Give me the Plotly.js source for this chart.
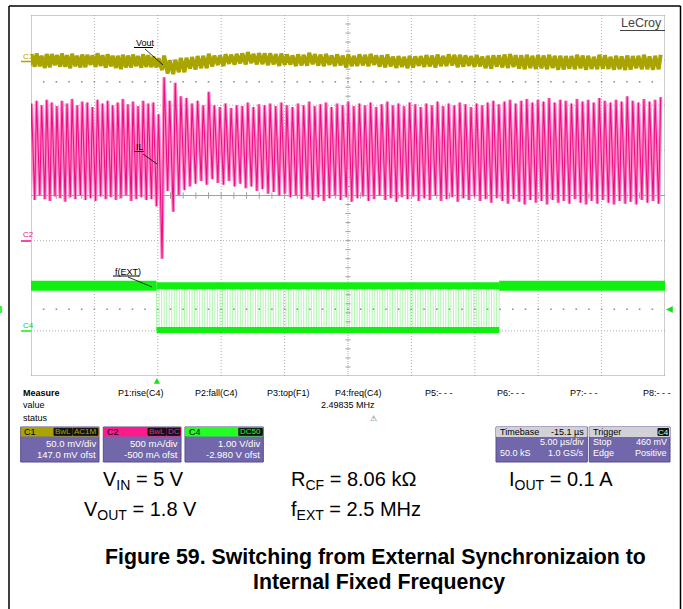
<!DOCTYPE html>
<html><head><meta charset="utf-8">
<script src="https://cdn.plot.ly/plotly-3.0.1.min.js"></script>
<style>html,body{margin:0;padding:0;background:#fff}#chart{width:683px;height:609px}</style>
</head><body><div id="chart"></div>
<script>
// ================= DATA =================
// Timebase
const timebaseUsPerDiv = 5.0;
const triggerDelayUs = -15.1;
// Channel settings: [units per div, offset]
const c1Scale = 50.0, c1Offset = 147.0;     // mV/div, mV  (Vout, AC)
const c2Scale = 0.5,  c2Offset = -0.5;      // A/div, A    (IL)
const c4Scale = 1.0,  c4Offset = -2.98;     // V/div, V    (f(EXT))
// Switching: external clock 2.5 MHz, internal oscillator after the switch-over
const fExtMHz = 2.49835;
const intPeriodUs = 0.44;
const dutyCycle = 1.8 / 5;
// Inductor current, per switching cycle (A)
const ilPeakExtA   = [1.52,1.55,1.50,1.56,1.53,1.49,1.55,1.52,1.57,1.50,1.54,1.53,1.48,1.56,1.52,1.55,1.50,1.53,1.57,1.51,1.54,1.49,1.55,1.52,1.53];
const ilValleyExtA = [0.47,0.45,0.50,0.46,0.44,0.49,0.47,0.43,0.48,0.46,0.50,0.45,0.47,0.44,0.49,0.46,0.48,0.45,0.47,0.50,0.44,0.46,0.48,0.45,0.46];
const ilPeakIntA = [1.40,1.81,1.55,1.75,1.60,1.58,1.52,1.55,1.50,1.65,1.50,1.48,1.52,1.47,1.50,1.49,1.53,1.48,1.51,1.50,
  1.52,1.49,1.53,1.50,1.48,1.52,1.50,1.54,1.49,1.51,1.53,1.48,1.52,1.50,1.54,1.49,1.52,1.50,1.53,1.48,
  1.51,1.54,1.50,1.52,1.49,1.53,1.51,1.48,1.52,1.50,1.54,1.49,1.52,1.50,1.53,1.51,1.48,1.52,1.50,1.53,
  1.55,1.51,1.54,1.56,1.52,1.55,1.57,1.53,1.56,1.54,1.58,1.53,1.56,1.55,1.52,1.57,1.54,1.56,1.53,1.58,
  1.55,1.53,1.56,1.54,1.60,1.55,1.53,1.57,1.54,1.56,1.59];
const ilValleyIntA = [0.38,-0.20,0.55,0.32,0.50,0.56,0.60,0.63,0.66,0.62,0.68,0.64,0.62,0.66,0.60,0.63,0.58,0.60,0.55,0.57,
  0.52,0.54,0.50,0.52,0.48,0.50,0.46,0.49,0.45,0.48,0.44,0.47,0.50,0.45,0.48,0.43,0.47,0.49,0.44,0.46,
  0.50,0.45,0.47,0.43,0.48,0.46,0.49,0.44,0.47,0.45,0.50,0.44,0.46,0.48,0.43,0.47,0.45,0.49,0.44,0.46,
  0.42,0.47,0.44,0.41,0.46,0.43,0.40,0.45,0.42,0.44,0.40,0.45,0.42,0.44,0.41,0.46,0.42,0.40,0.44,0.41,
  0.45,0.42,0.40,0.44,0.41,0.43,0.40,0.45,0.42,0.44,0.41];
// Vout (AC) mean level, one sample per microsecond from the left edge (mV), and ripple half amplitude
const voutMidMv = [3,2,3,2,2,3,2,1,2,2, 0,-4.5,-2.5,0,2,3,4,5,4.5,4,3.5, 3,4,3,3,2, 3,3,2,1,1,
  2,2,3,2,2,1,2,2,1,1, 1,0,1,0,1,0,0,1,0,1];
const voutRippleMv = 6.5;
// f(EXT) clock
const fextHighV = 0.98, fextLowV = 0.0;
const fextCycles = 68;
const trigLevelV = 0.46;
const cursorLevelDiv = 6.52;
// Texts
const measureLabels = ['P1:rise(C4)','P2:fall(C4)','P3:top(F1)','P4:freq(C4)','P5:- - -','P6:- - -','P7:- - -','P8:- - -'];
const measureValue = '2.49835 MHz';
const chanNames = ['C1','C2','C4'];
const chanBadges = [['BwL','AC1M'],['BwL','DC'],['DC50']];
const chanRows = [['50.0 mV/div','147.0 mV ofst'],['500 mA/div','-500 mA ofst'],['1.00 V/div','-2.980 V ofst']];
const condTexts = ['V<sub>IN</sub> = 5 V','R<sub>CF</sub> = 8.06 kΩ','I<sub>OUT</sub> = 0.1 A','V<sub>OUT</sub> = 1.8 V','f<sub>EXT</sub> = 2.5 MHz'];
const captionLines = ['Figure 59. Switching from External Synchronizaion to','Internal Fixed Frequency'];

// ================= GEOMETRY =================
const W = 683, H = 609;
const GX0 = 31, GX1 = 665, GY0 = 15, GY1 = 376;
const px = x => x / W;
const py = y => 1 - y / H;
const tLeft = -triggerDelayUs - 5 * timebaseUsPerDiv;
const tRight = -triggerDelayUs + 5 * timebaseUsPerDiv;
const toDiv = (v, scale, offset) => 4 + (v + offset) / scale;

// ================= BUILD TRACES =================
const extPeriodUs = 1 / fExtMHz;
const ilT = [], ilV = [], ilKind = [], ilPk = [];
const nExt = ilPeakExtA.length;
for (let i = 0; i < nExt; i++) {
  const tv = -(nExt - i) * extPeriodUs;
  ilT.push(tv, tv + dutyCycle * extPeriodUs);
  ilV.push(ilValleyExtA[i], ilPeakExtA[i]);
  ilKind.push(-1, 1);
  ilPk.push(ilPeakExtA[i], ilPeakExtA[i]);
}
for (let i = 0; i < ilPeakIntA.length; i++) {
  const tv = i * intPeriodUs;
  ilT.push(tv, tv + dutyCycle * intPeriodUs);
  ilV.push(ilValleyIntA[i], ilPeakIntA[i]);
  ilKind.push(-1, 1);
  ilPk.push(ilPeakIntA[i], ilPeakIntA[i]);
}
const ilDiv = ilV.map(v => toDiv(v, c2Scale, c2Offset));

const voT = [], voDiv = [];
ilT.forEach((t, i) => {
  const k = Math.min(voutMidMv.length - 1, Math.max(0, Math.round(t - tLeft)));
  const r = voutRippleMv + Math.max(-1.5, Math.min(1.5, 30 * (ilPk[i] - 1.52)));
  voT.push(t);
  voDiv.push(toDiv(voutMidMv[k] + ilKind[i] * r, c1Scale, c1Offset));
});

// f(EXT) square wave
const fxT = [], fxV = [];
const half = extPeriodUs / 2;
for (let c = 0; c < fextCycles; c++) {
  const tf = c * extPeriodUs, tr = tf + half;
  fxT.push(tf, tf, tr, tr);
  fxV.push(fextHighV, fextLowV, fextLowV, fextHighV);
}
const fxEnd = (fextCycles - 1) * extPeriodUs + half;
const fxDiv = fxV.map(v => toDiv(v, c4Scale, c4Offset));
const hiDiv = toDiv(fextHighV, c4Scale, c4Offset);
const loDiv = toDiv(fextLowV, c4Scale, c4Offset);

const GREEN = '#10f010', OLIVE = '#a9a400', MAG = '#ee0f87';
const traces = [
  {x:[tLeft,0], y:[hiDiv,hiDiv], mode:'lines', line:{color:GREEN,width:10}, hoverinfo:'skip'},
  {x:[fxEnd,tRight], y:[hiDiv,hiDiv], mode:'lines', line:{color:GREEN,width:10}, hoverinfo:'skip'},
  {x:fxT, y:fxDiv, mode:'lines', line:{color:'rgba(40,225,40,0.6)',width:0.6}, hoverinfo:'skip'},
  {x:[0,fxEnd], y:[hiDiv,hiDiv], mode:'lines', line:{color:GREEN,width:7}, hoverinfo:'skip'},
  {x:[0,fxEnd], y:[loDiv,loDiv], mode:'lines', line:{color:GREEN,width:6}, hoverinfo:'skip'},
  {x:ilT, y:ilDiv, mode:'lines', line:{color:'#ff8ac6',width:3.4}, hoverinfo:'skip'},
  {x:ilT, y:ilDiv, mode:'lines', line:{color:MAG,width:1.1}, hoverinfo:'skip'},
  {x:voT, y:voDiv, mode:'lines', line:{color:OLIVE,width:4}, hoverinfo:'skip'}
];

// graticule dots on cursor / trigger level lines
const dotT = [];
for (let k = 1; k < 50; k++) dotT.push(tLeft + k * timebaseUsPerDiv / 5);
const trigDiv = toDiv(trigLevelV, c4Scale, c4Offset);
traces.unshift({x:dotT.concat(dotT), y:dotT.map(()=>cursorLevelDiv).concat(dotT.map(()=>trigDiv)),
  mode:'markers', marker:{symbol:'square',size:1.6,color:'#909090'}, hoverinfo:'skip'});

// ================= SHAPES =================
const shapes = [];
const GRID = '#b0b0b0';
for (let k = 1; k < 10; k++) {
  const t = tLeft + k * timebaseUsPerDiv;
  shapes.push({type:'line', xref:'x', yref:'y', x0:t, x1:t, y0:0, y1:8, layer:'below',
    line:{color:GRID, width:1, dash: k === 5 ? '1px,1px' : '1px,2px'}});
}
for (let j = 1; j < 8; j++) {
  shapes.push({type:'line', xref:'x', yref:'y', x0:tLeft, x1:tRight, y0:j, y1:j, layer:'below',
    line:{color:j === 4 ? '#a0a0a0' : GRID, width:1, dash: j === 4 ? 'solid' : '1px,2px'}});
}
shapes.push({type:'rect', xref:'x', yref:'y', x0:tLeft, x1:tRight, y0:0, y1:8, layer:'below', line:{color:'#9a9a9a', width:1}});
const tc = -triggerDelayUs;
for (let m = 1; m < 40; m++) {
  const y = m * 0.2;
  shapes.push({type:'line', xref:'x', yref:'y', x0:tc - 0.2, x1:tc + 0.2, y0:y, y1:y, layer:'below', line:{color:'#a0a0a0', width:1}});
}
for (let m = 1; m < 50; m++) {
  const t = tLeft + m;
  shapes.push({type:'line', xref:'x', yref:'y', x0:t, x1:t, y0:3.93, y1:4.07, layer:'below', line:{color:'#a0a0a0', width:1}});
}
// page frame
const pline = (x0,y0,x1,y1,color,width) => shapes.push({type:'line', xref:'paper', yref:'paper', x0:px(x0), y0:py(y0), x1:px(x1), y1:py(y1), line:{color:color, width:width||1}});
pline(9,6,680.5,6,'#000',1.5);
pline(9,6,9,609,'#000',1.5);
pline(680.5,6,680.5,609,'#000',1.5);
// channel markers
pline(21,61.5,31,61.5,OLIVE,1.5);
pline(21,241,31,241,MAG,1.5);
pline(21,331,31,331,GREEN,1.5);
// label leaders + underlines
pline(134,47.5,153,47.5,'#000',1); pline(145,49,163,65,'#000',0.8);
pline(134,151.5,144,151.5,'#000',1); pline(143,154,157,164,'#000',0.8);
pline(113,276,139,276,'#000',1); pline(128,277,152,287,'#000',0.8);
pline(620,30.5,665,30.5,'#444',1.2);
// triangles
const tri = (pts, color) => shapes.push({type:'path', xref:'paper', yref:'paper',
  path:'M' + pts.map(p => px(p[0]) + ',' + py(p[1])).join(' L') + ' Z', fillcolor:color, line:{color:color, width:0.5}});
tri([[154.3,383.5],[159.5,383.5],[156.9,378.5]], '#10e010');
tri([[666.5,309.5],[672.5,306.5],[672.5,312.5]], '#10e010');
shapes.push({type:'rect', xref:'paper', yref:'paper', x0:px(0), x1:px(2), y0:py(313), y1:py(306), fillcolor:'#40f040', line:{width:0}});

// ================= ANNOTATIONS =================
const ann = [];
const SF = 'Liberation Sans, Arial, sans-serif';
const txt = (x, y, text, opt) => {
  opt = opt || {};
  ann.push({xref:'paper', yref:'paper', x:px(x), y:py(y), text:text, showarrow:false,
    xanchor:opt.xa || 'left', yanchor:'middle',
    font:{family:opt.family || SF, size:opt.size || 9, color:opt.color || '#000'}});
};
txt(20.5,56,'C1',{size:8,color:OLIVE});
txt(20.5,235,'C2',{size:8,color:MAG});
txt(20.5,325,'C4',{size:8,color:'#10d010'});
txt(133.5,43,'Vout',{size:9});
txt(133.5,147,'IL',{size:9});
txt(112.5,271.5,'f(EXT)',{size:9});
txt(618.5,23,'LeCroy',{size:12.5,color:'#444'});
// measure area
txt(21,392.5,'<b>Measure</b>',{size:9});
txt(21,405,'value',{size:9});
txt(21,418,'status',{size:9});
const measX = [116,192.5,265,332.5,423.5,495.5,567.5,641];
measureLabels.forEach((s,i) => txt(measX[i],392.5,s,{size:9}));
txt(377,405,measureValue,{size:9,xa:'right'});
txt(373.5,418,'⚠',{size:8,xa:'center',color:'#666',family:'DejaVu Sans'});

// channel boxes
const boxRect = (x0,x1,y0,y1,fill,line) => shapes.push({type:'rect', xref:'paper', yref:'paper', x0:px(x0), x1:px(x1), y0:py(y1), y1:py(y0), fillcolor:fill, line:{color:line||fill, width:1}});
const BODY = '#7167aa', BORDER = '#564c8e';
const chanX = [[20.7,99],[103.3,181],[185,263.3]];
const chanHead = [OLIVE,'#ff1a8c','#22ff22'];
const badgeW = {BwL:18, AC1M:25, DC:13, DC50:23.5};
chanX.forEach((xx,i) => {
  boxRect(xx[0],xx[1],427,462,BODY,BORDER);
  boxRect(xx[0]+0.5,xx[1]-0.5,427.5,436,chanHead[i],chanHead[i]);
  txt(xx[0]+1.5,431.8,chanNames[i],{size:9});
  let right = xx[1]-1;
  chanBadges[i].slice().reverse().forEach(b => {
    const w = badgeW[b];
    boxRect(right-w,right,428.3,435.3,'#111','#111');
    txt(right-w/2,431.8,b,{size:8,xa:'center',color:chanHead[i]});
    right -= w + 1;
  });
  txt(xx[1]-1.5,443.5,chanRows[i][0],{size:9.5,xa:'right',color:'#fff'});
  txt(xx[1]-1.5,454,chanRows[i][1],{size:9.5,xa:'right',color:'#fff'});
});
// timebase & trigger
const HEAD2 = '#d2d2d6';
boxRect(496,587.3,427,462,BODY,BORDER);
boxRect(496.5,586.8,427.5,436.5,HEAD2,HEAD2);
txt(497.5,432,'Timebase',{size:9});
txt(586,432,'-15.1 µs',{size:9,xa:'right'});
txt(586,442.5,'5.00 µs/div',{size:9,xa:'right',color:'#fff'});
txt(497.5,452.5,'50.0 kS',{size:9,color:'#fff'});
txt(586,452.5,'1.0 GS/s',{size:9,xa:'right',color:'#fff'});
boxRect(589.3,670,427,462,BODY,BORDER);
boxRect(589.8,669.5,427.5,436.5,HEAD2,HEAD2);
txt(591,432,'Trigger',{size:9});
boxRect(658,668.5,428.5,435.5,'#111','#111');
txt(663.2,432,'C4',{size:8,xa:'center',color:'#c8ffc8'});
txt(591,442.5,'Stop',{size:9,color:'#fff'});
txt(668.5,442.5,'460 mV',{size:9,xa:'right',color:'#fff'});
txt(591,452.5,'Edge',{size:9,color:'#fff'});
txt(668.5,452.5,'Positive',{size:9,xa:'right',color:'#fff'});

// operating conditions
const condPos = [[100.7,480],[288.7,480],[507,480],[81.7,510],[289,510]];
condTexts.forEach((s,i) => txt(condPos[i][0],condPos[i][1],s,{size:20,color:'#000'}));
// caption
const capFont = 'Liberation Sans Narrow, Arial Narrow, Liberation Sans, Arial, sans-serif';
captionLines.forEach((s,i) => ann.push({xref:'paper', yref:'paper', x:px(i === 0 ? 375 : 379), y:py(i === 0 ? 557 : 582),
  text:'<b>' + s + '</b>', showarrow:false, xanchor:'center', yanchor:'middle',
  font:{family:capFont, size:21.3, color:'#000'}}));

const layout = {
  width:W, height:H, margin:{l:0,r:0,t:0,b:0}, paper_bgcolor:'#fff', plot_bgcolor:'#fff', showlegend:false,
  xaxis:{range:[tLeft,tRight], domain:[px(GX0), px(GX1)], showgrid:false, zeroline:false, showticklabels:false, ticks:'', fixedrange:true},
  yaxis:{range:[0,8], domain:[py(GY1), py(GY0)], showgrid:false, zeroline:false, showticklabels:false, ticks:'', fixedrange:true},
  shapes:shapes, annotations:ann
};
Plotly.newPlot('chart', traces, layout, {displayModeBar:false, staticPlot:true});
</script></body></html>
